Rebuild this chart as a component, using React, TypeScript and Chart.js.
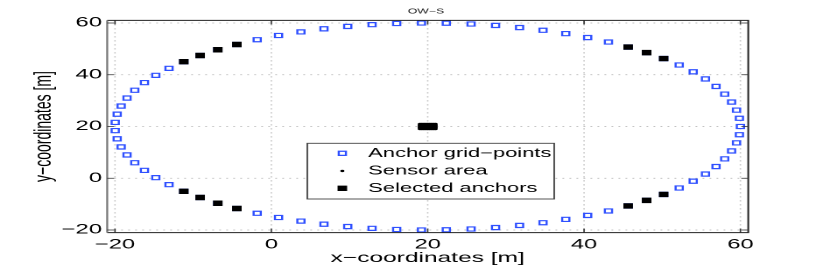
import React, { useEffect, useRef } from "react";
import { Chart, registerables } from "chart.js";

Chart.register(...registerables);

// ---- data ----
const anchorX = [
  60.0, 59.87, 59.5, 58.87, 57.99, 56.88, 55.53, 53.96, 52.17, 50.18,
  48.0, 45.64, 43.12, 40.46, 37.66, 34.75, 31.75, 28.68, 25.55, 22.38,
  19.2, 16.03, 12.88, 9.77, 6.73, 3.78, 0.92, -1.81, -4.41, -6.85,
  -9.11, -11.2, -13.09, -14.78, -16.23, -17.47, -18.46, -19.21, -19.72, -19.97,
  -19.97, -19.72, -19.21, -18.46, -17.47, -16.23, -14.78, -13.09, -11.2, -9.11,
  -6.85, -4.41, -1.81, 0.92, 3.78, 6.73, 9.77, 12.88, 16.03, 19.2,
  22.38, 25.55, 28.68, 31.75, 34.75, 37.66, 40.46, 43.12, 45.64, 48.0,
  50.18, 52.17, 53.96, 55.53, 56.88, 57.99, 58.87, 59.5, 59.87,
];
const anchorY = [
  20.0, 23.18, 26.33, 29.45, 32.51, 35.49, 38.37, 41.14, 43.77, 46.25,
  48.56, 50.7, 52.64, 54.37, 55.89, 57.18, 58.23, 59.05, 59.61, 59.93,
  59.99, 59.8, 59.36, 58.67, 57.74, 56.56, 55.16, 53.53, 51.69, 49.65,
  47.43, 45.04, 42.47, 39.77, 36.95, 34.01, 30.99, 27.9, 24.76, 21.59,
  18.41, 15.24, 12.1, 9.01, 5.99, 3.05, 0.23, -2.47, -5.04, -7.43,
  -9.65, -11.69, -13.53, -15.16, -16.56, -17.74, -18.67, -19.36, -19.8, -19.99,
  -19.93, -19.61, -19.05, -18.23, -17.18, -15.89, -14.37, -12.64, -10.7, -8.56,
  -6.25, -3.77, -1.14, 1.63, 4.51, 7.49, 10.55, 13.67, 16.82,
];
const selectedIdx = [9, 10, 11, 28, 29, 30, 31, 48, 49, 50, 51, 68, 69, 70];
const sensorX = [19, 19.25, 19.5, 19.75, 20, 20.25, 20.5, 20.75, 21];
const sensorY = [19, 19.25, 19.5, 19.75, 20, 20.25, 20.5, 20.75, 21];
const xTicks = [-20, 0, 20, 40, 60];
const yTicks = [-20, 0, 20, 40, 60];
const seriesLabels = ["Anchor grid\u2212points", "Sensor area", "Selected anchors"];
const titleText = "OW\u2212S";
const xLabel = "x\u2212coordinates [m]";
const yLabel = "y\u2212coordinates [m]";

// ---- layout / style ----
const STRETCH = 830 / 474;
const W = 474;
const H = 277;
const FONT = '"Liberation Sans", Arial, Helvetica, sans-serif';
const BLUE = "#2f50ff";

const fmt = (v: number) => (v < 0 ? "\u2212" + Math.abs(v) : String(v));

const decorPlugin = {
  id: "decor",
  beforeDatasetsDraw(chart: any) {
    const { ctx, chartArea: a, scales } = chart;
    ctx.save();
    ctx.strokeStyle = "#b0b0b0";
    ctx.lineWidth = 0.8;
    ctx.setLineDash([1, 3]);
    for (const t of scales.x.ticks) {
      const px = scales.x.getPixelForValue(t.value);
      ctx.beginPath();
      ctx.moveTo(px, a.top);
      ctx.lineTo(px, a.bottom);
      ctx.stroke();
    }
    for (const t of scales.y.ticks) {
      const py = scales.y.getPixelForValue(t.value);
      ctx.beginPath();
      ctx.moveTo(a.left, py);
      ctx.lineTo(a.right, py);
      ctx.stroke();
    }
    ctx.restore();
  },
  afterDraw(chart: any) {
    const { ctx, chartArea: a, scales } = chart;
    ctx.save();
    // frame
    ctx.setLineDash([]);
    ctx.lineWidth = 1;
    ctx.strokeStyle = "#222";
    ctx.beginPath();
    ctx.moveTo(a.left, a.top);
    ctx.lineTo(a.right, a.top);
    ctx.lineTo(a.right, a.bottom);
    ctx.lineTo(a.left, a.bottom);
    ctx.stroke();
    ctx.strokeStyle = "#777";
    ctx.lineWidth = 1.1;
    ctx.beginPath();
    ctx.moveTo(a.left, a.top);
    ctx.lineTo(a.left, a.bottom);
    ctx.stroke();
    // inward ticks
    ctx.strokeStyle = "#333";
    ctx.lineWidth = 0.8;
    for (const t of scales.x.ticks) {
      const px = scales.x.getPixelForValue(t.value);
      ctx.beginPath();
      ctx.moveTo(px, a.bottom);
      ctx.lineTo(px, a.bottom - 4);
      ctx.moveTo(px, a.top);
      ctx.lineTo(px, a.top + 4);
      ctx.stroke();
    }
    for (const t of scales.y.ticks) {
      const py = scales.y.getPixelForValue(t.value);
      ctx.beginPath();
      ctx.moveTo(a.left, py);
      ctx.lineTo(a.left + 4, py);
      ctx.moveTo(a.right, py);
      ctx.lineTo(a.right - 4, py);
      ctx.stroke();
    }
    // title
    ctx.fillStyle = "#222";
    ctx.font = `7px ${FONT}`;
    ctx.textAlign = "center";
    ctx.textBaseline = "middle";
    ctx.fillText(titleText, (a.left + a.right) / 2 - 1, 11.5);

    // legend
    const bx = a.left + 114.3;
    const by = 143.3;
    const bw = 141;
    const bh = 55.7;
    ctx.fillStyle = "#fff";
    ctx.fillRect(bx, by, bw, bh);
    ctx.strokeStyle = "#444";
    ctx.lineWidth = 0.9;
    ctx.strokeRect(bx, by, bw, bh);
    const rows = [153.3, 171, 188.3];
    const mx = bx + 20;
    const tx = bx + 34.8;
    ctx.font = `12.5px ${FONT}`;
    ctx.textAlign = "left";
    ctx.textBaseline = "middle";
    chart.data.datasets.forEach((ds: any, i: number) => {
      const y = rows[i];
      ctx.save();
      if (ds.pointStyle === "rect") {
        const s = ds.pointRadius * Math.SQRT1_2;
        ctx.fillStyle = ds.backgroundColor;
        ctx.strokeStyle = ds.borderColor;
        ctx.lineWidth = ds.borderWidth;
        ctx.beginPath();
        ctx.rect(mx - s, y - s, 2 * s, 2 * s);
        ctx.fill();
        ctx.stroke();
      } else {
        ctx.fillStyle = ds.backgroundColor;
        ctx.beginPath();
        ctx.arc(mx, y, ds.pointRadius, 0, Math.PI * 2);
        ctx.fill();
      }
      ctx.restore();
      ctx.fillStyle = "#000";
      ctx.fillText(ds.label, tx, y);
    });
    ctx.restore();
  },
};

export default function App() {
  const ref = useRef<HTMLCanvasElement | null>(null);

  useEffect(() => {
    if (!ref.current) return;
    const anchors = anchorX.map((x, i) => ({ x, y: anchorY[i] }));
    const selected = selectedIdx.map((i) => ({ x: anchorX[i], y: anchorY[i] }));
    const sensor: { x: number; y: number }[] = [];
    for (const sx of sensorX) for (const sy of sensorY) sensor.push({ x: sx, y: sy });

    const chart = new Chart(ref.current, {
      type: "scatter",
      data: {
        datasets: [
          {
            label: seriesLabels[0],
            data: anchors,
            pointStyle: "rect",
            pointRadius: 2.9,
            pointHoverRadius: 2.9,
            backgroundColor: "#ffffff",
            borderColor: BLUE,
            borderWidth: 1.2,
            order: 3,
          },
          {
            label: seriesLabels[1],
            data: sensor,
            pointStyle: "circle",
            pointRadius: 1.2,
            pointHoverRadius: 1.2,
            backgroundColor: "#000000",
            borderColor: "#000000",
            borderWidth: 0,
            order: 2,
          },
          {
            label: seriesLabels[2],
            data: selected,
            pointStyle: "rect",
            pointRadius: 3.3,
            pointHoverRadius: 3.3,
            backgroundColor: "#000000",
            borderColor: "#000000",
            borderWidth: 0.8,
            order: 1,
          },
        ] as any,
      },
      options: {
        animation: false,
        responsive: false,
        devicePixelRatio: 2,
        events: [],
        layout: { padding: { left: 0, top: 20.4, right: W - 427.3, bottom: 0 } },
        plugins: {
          legend: { display: false },
          tooltip: { enabled: false },
          title: { display: false },
        },
        scales: {
          x: {
            type: "linear",
            min: -21,
            max: 61,
            grid: { display: false, drawTicks: false },
            border: { display: false },
            afterBuildTicks: (s: any) => {
              s.ticks = xTicks.map((v) => ({ value: v }));
            },
            afterFit: (s: any) => {
              s.height = H - 232.6;
            },
            ticks: {
              padding: 4,
              color: "#000",
              font: { family: FONT, size: 13.5 },
              maxRotation: 0,
              autoSkip: false,
              callback: (v: any) => fmt(Number(v)),
            },
            title: {
              display: true,
              text: xLabel,
              color: "#000",
              font: { family: FONT, size: 14 },
              padding: { top: 0, bottom: 10.6 },
            },
          },
          y: {
            type: "linear",
            min: -21,
            max: 61,
            grid: { display: false, drawTicks: false },
            border: { display: false },
            afterBuildTicks: (s: any) => {
              s.ticks = yTicks.map((v) => ({ value: v }));
            },
            afterFit: (s: any) => {
              s.width = 61.2;
            },
            ticks: {
              padding: 3,
              color: "#000",
              font: { family: FONT, size: 13.5 },
              autoSkip: false,
              callback: (v: any) => fmt(Number(v)),
            },
            title: {
              display: true,
              text: yLabel,
              color: "#000",
              font: { family: FONT, size: 14 },
              padding: { top: 16.8, bottom: 0 },
            },
          },
        },
      } as any,
      plugins: [decorPlugin],
    });
    return () => chart.destroy();
  }, []);

  return (
    <div
      style={{
        position: "fixed",
        left: 0,
        top: 0,
        width: 830,
        height: H,
        overflow: "hidden",
        background: "#ffffff",
      }}
    >
      <div
        style={{
          width: W,
          height: H,
          transform: `scaleX(${STRETCH})`,
          transformOrigin: "0 0",
        }}
      >
        <canvas ref={ref} width={W} height={H} style={{ width: W, height: H, display: "block" }} />
      </div>
    </div>
  );
}
